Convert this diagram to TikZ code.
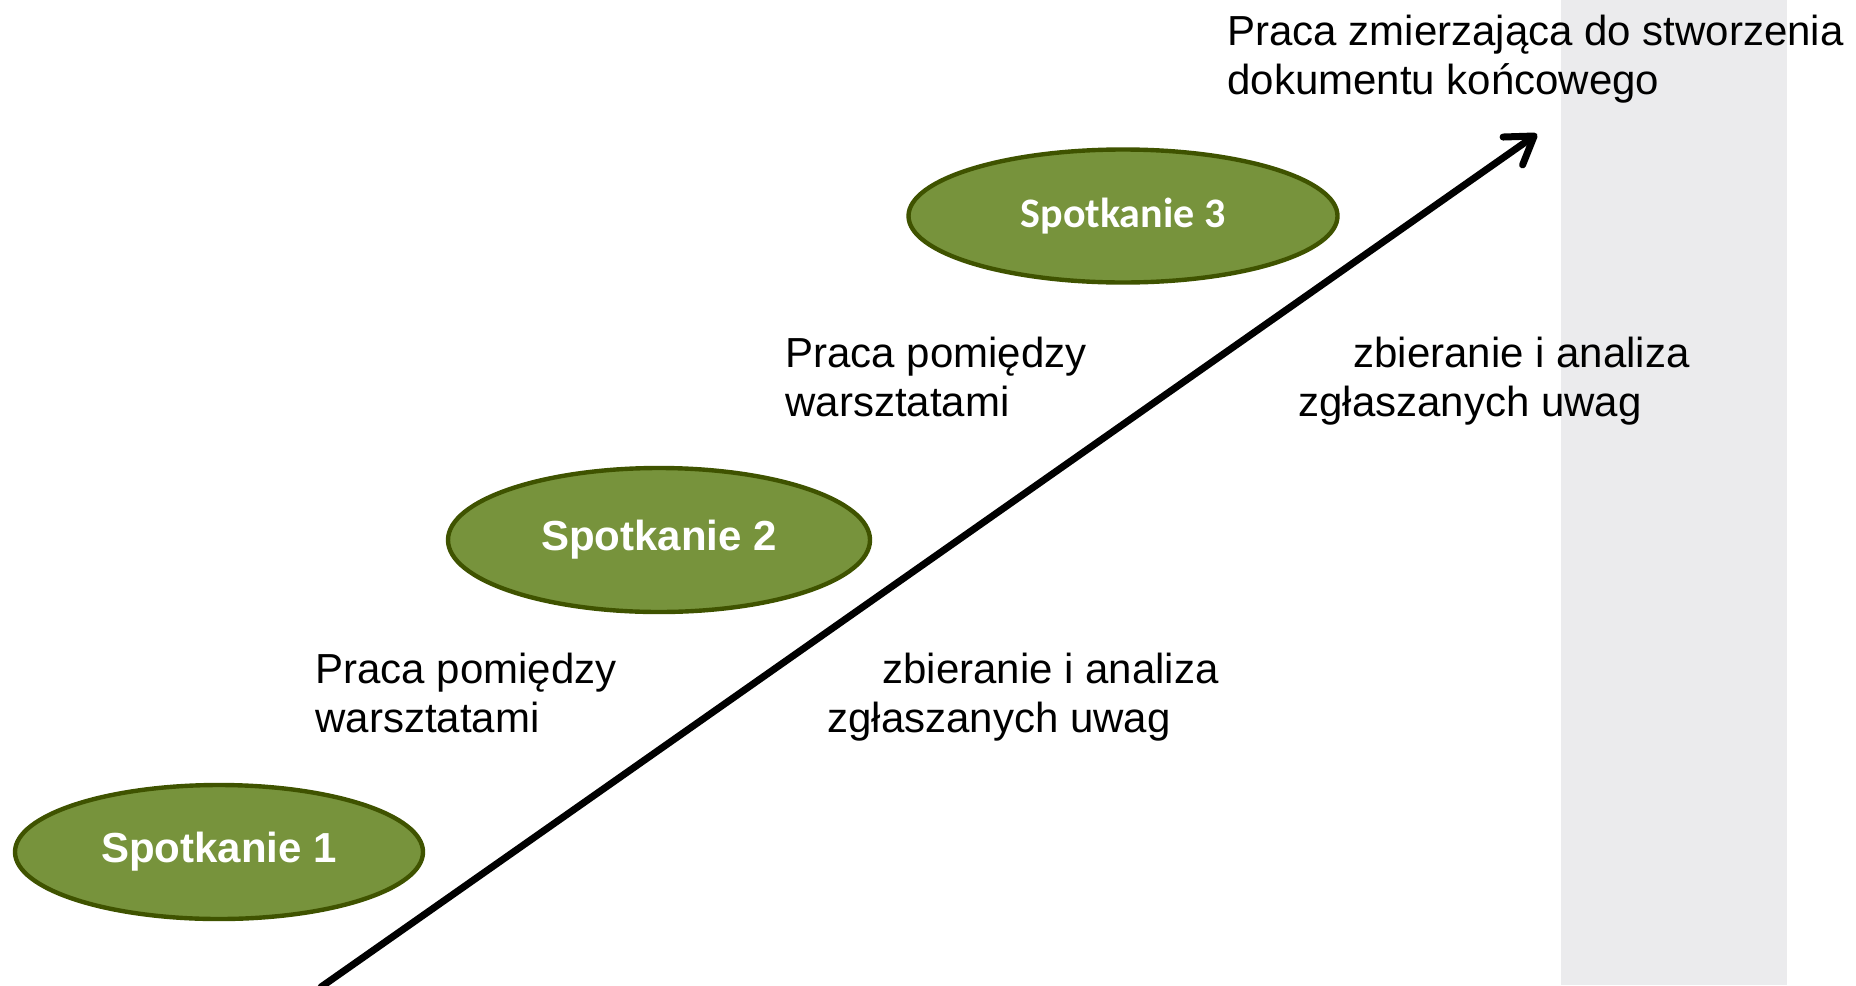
\documentclass[tikz,border=0pt]{standalone}
\usepackage{fontspec}
\setmainfont{Liberation Sans}
\newfontfamily\carlito{Carlito}
\usetikzlibrary{shapes.geometric,arrows.meta}
\definecolor{olivefill}{HTML}{77933C}
\definecolor{oliveedge}{HTML}{3F5300}
\definecolor{band}{HTML}{EBEBED}
\tikzset{
  meeting/.style={ellipse, draw=oliveedge, fill=olivefill, line width=2.2pt, inner sep=0pt,
    text=white, font=\bfseries\fontsize{21pt}{24pt}\selectfont},
  label/.style={anchor=base west, inner sep=0pt, align=left,
    font=\fontsize{21pt}{24.5pt}\selectfont},
  progress/.style={line width=3.5pt, line cap=round,
    -{Straight Barb[length=13pt,width=17pt,round]}}
}
\begin{document}
\begin{tikzpicture}[x=0.5pt,y=-0.5pt]
\useasboundingbox (0,0) rectangle (1856,985);
\fill[band] (1561,0) rectangle (1787,985);
\coordinate (start) at (321,987);
\coordinate (end) at (1537,134);
\draw[progress] (start) -- (end);
\node[meeting, minimum width=204pt, minimum height=67pt] (s1) at (219,852) {Spotkanie 1};
\node[meeting, minimum width=211pt, minimum height=72pt] (s2) at (659,540) {Spotkanie 2};
\node[meeting, minimum width=214.5pt, minimum height=66.5pt, font=\carlito\bfseries\fontsize{21pt}{24pt}\selectfont] (s3) at (1123,216) {Spotkanie 3};
% base anchor of a multi-line node is the baseline of its last line
\node[label] (goal) at (1227,94) {Praca zmierzająca do stworzenia\\dokumentu końcowego};
\node[label] (work2) at (785,416) {Praca pomiędzy\\warsztatami};
\node[label] (collect2) at (1298,416) {\hspace*{27.5pt}zbieranie i analiza\\zgłaszanych uwag};
\node[label] (work1) at (315,732) {Praca pomiędzy\\warsztatami};
\node[label] (collect1) at (827,732) {\hspace*{27.5pt}zbieranie i analiza\\zgłaszanych uwag};
\end{tikzpicture}
\end{document}
